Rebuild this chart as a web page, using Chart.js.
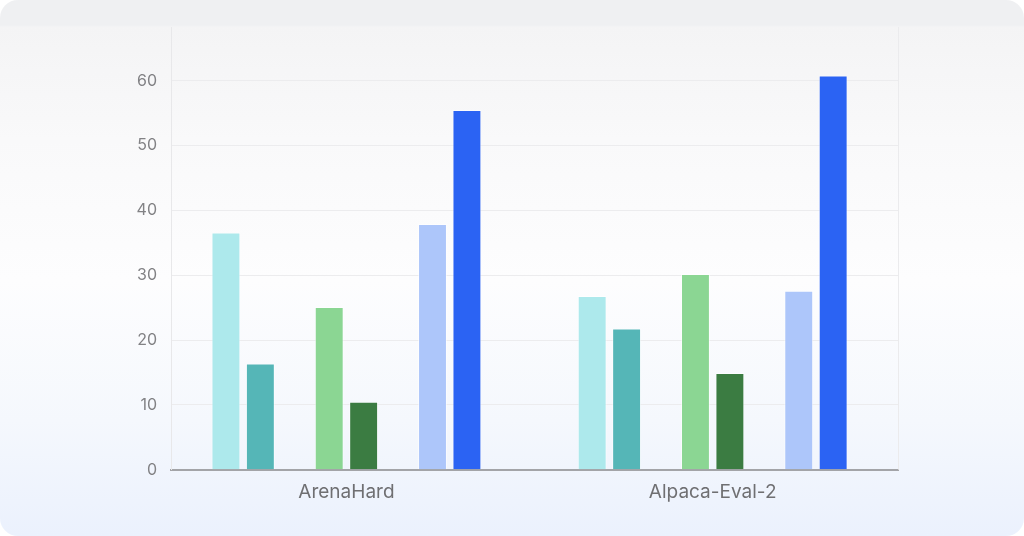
<!DOCTYPE html>
<html>
<head>
<meta charset="utf-8">
<script src="https://cdn.jsdelivr.net/npm/chart.js@4.4.1/dist/chart.umd.min.js"></script>
<style>
  html, body { margin: 0; padding: 0; background: #ffffff; }
  #card {
    position: absolute; left: 0; top: 0; width: 1024px; height: 536px;
    border-radius: 18px; overflow: hidden;
    background: linear-gradient(to bottom, #eff0f2 0px, #eff0f2 25px, #f4f4f5 27px, #f9f9fa 140px, #fdfdfe 280px, #f5f8fd 420px, #ebf1fd 536px);
  }
  #wrap { position: absolute; left: 0; top: 0; width: 1024px; height: 536px; }
</style>
</head>
<body>
<div id="card"></div>
<div id="wrap"><canvas id="c" width="1024" height="536"></canvas></div>
<script>
const categories = ["ArenaHard", "Alpaca-Eval-2"];
const seriesA = [36.6, 26.8];
const seriesB = [16.4, 21.8];
const seriesC = [25.1, 30.2];
const seriesD = [10.5, 14.9];
const seriesE = [37.9, 27.6];
const seriesF = [55.5, 60.8];
const spacer = [null, null];
const yTickStep = 10;
const yMax = 68.3;
const xMin = -0.479;
const xMax = 1.506;

const colors = ["#ade9ec", "#55b6b7", "#8bd693", "#3b7c42", "#adc6fa", "#2b63f3"];

function ds(label, values, color) {
  return {
    label: label,
    data: categories.map((c, i) => ({ x: i, y: values[i] })),
    backgroundColor: color,
    borderColor: "rgba(255,255,255,0.55)", borderWidth: 1,
    categoryPercentage: 0.752, barPercentage: 0.84
  };
}

const rightLine = {
  id: "rightLine",
  beforeDatasetsDraw(chart) {
    const a = chart.chartArea, ctx = chart.ctx;
    ctx.save();
    ctx.strokeStyle = "#ebebed";
    ctx.lineWidth = 1;
    ctx.beginPath();
    ctx.moveTo(Math.round(a.right) + 0.5, a.top);
    ctx.lineTo(Math.round(a.right) + 0.5, a.bottom);
    ctx.stroke();
    ctx.restore();
  }
};

new Chart(document.getElementById("c"), {
  type: "bar",
  data: {
    datasets: [
      ds("A", seriesA, colors[0]),
      ds("B", seriesB, colors[1]),
      ds("gap1", spacer, "rgba(0,0,0,0)"),
      ds("C", seriesC, colors[2]),
      ds("D", seriesD, colors[3]),
      ds("gap2", spacer, "rgba(0,0,0,0)"),
      ds("E", seriesE, colors[4]),
      ds("F", seriesF, colors[5])
    ]
  },
  options: {
    responsive: false,
    animation: false,
    layout: { padding: { left: 0, right: 126, top: 27, bottom: 29.5 } },
    plugins: { legend: { display: false }, tooltip: { enabled: false } },
    scales: {
      x: {
        type: "linear",
        offset: false,
        min: xMin, max: xMax,
        afterBuildTicks(scale) { scale.ticks = categories.map((c, i) => ({ value: i })); },
        grid: { display: false, offset: false },
        border: { display: true, color: "#a3a4a8", width: 2 },
        ticks: {
          color: "#6f6f72", font: { family: "Inter", size: 19 }, padding: 3,
          callback: (v) => categories[v] !== undefined ? categories[v] : ""
        }
      },
      y: {
        min: 0, max: yMax,
        afterBuildTicks(scale) { scale.ticks = scale.ticks.filter(t => t.value % yTickStep === 0); },
        afterFit(scale) { scale.width = 171; },
        grid: { color: "#ececee", drawTicks: false, lineWidth: 1 },
        border: { display: true, color: "#e8e8ea", width: 1 },
        ticks: { stepSize: yTickStep, color: "#828285", font: { family: "Inter", size: 16 }, padding: 14 }
      }
    }
  },
  plugins: [rightLine]
});
</script>
</body>
</html>
